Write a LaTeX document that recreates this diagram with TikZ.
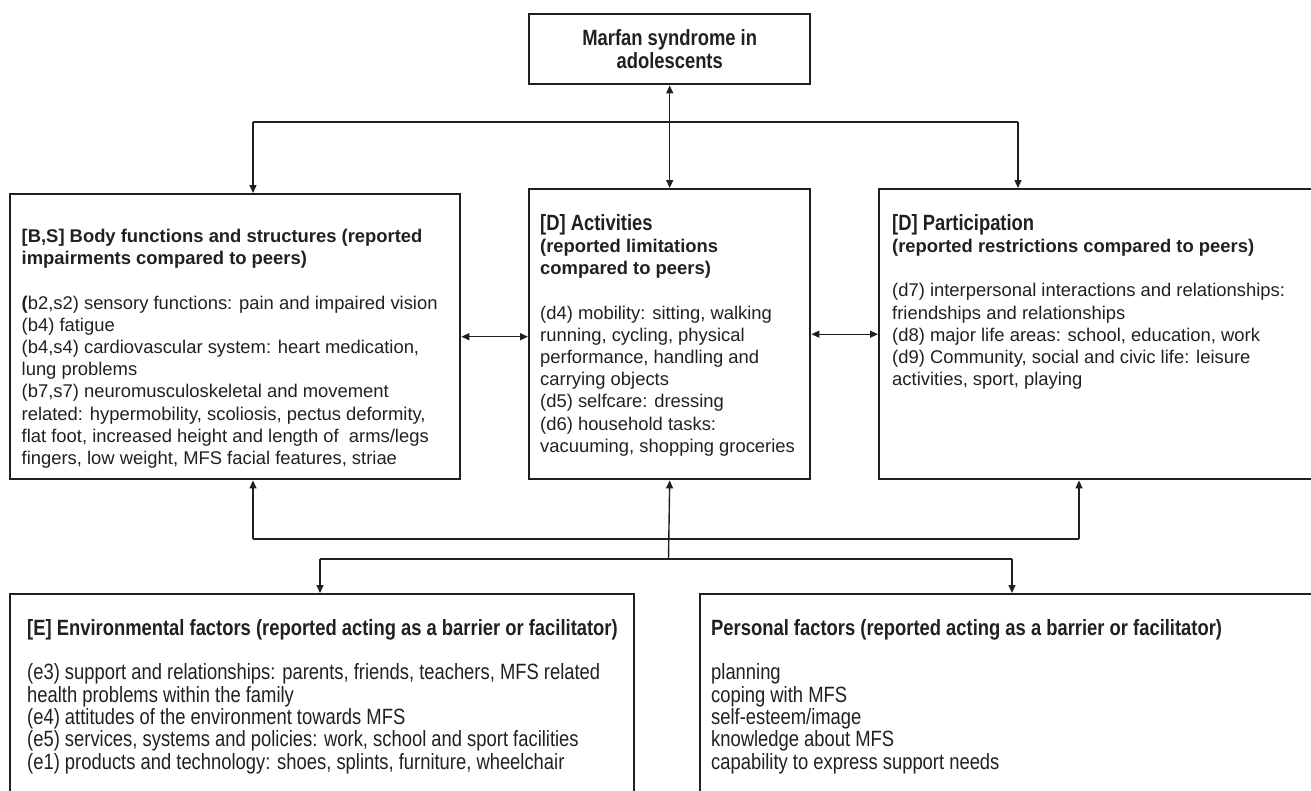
\documentclass[tikz,border=0pt]{standalone}
\usepackage{fontspec}
\setmainfont{Liberation Sans}
\newfontfamily\narrowfont[FakeStretch=0.832]{Liberation Sans}
\usetikzlibrary{arrows.meta}
\newcommand\nar{\narrowfont\fontsize{22.1}{22.3}\selectfont}
\newcommand\reg{\fontsize{18.4}{22.2}\selectfont}
\definecolor{ink}{HTML}{231F20}
\begin{document}
\begin{tikzpicture}[x=1pt,y=-1pt,
  box/.style={draw=ink,line width=2.4pt,inner sep=0pt,anchor=north west},
  txt/.style={anchor=north west,inner sep=0pt,align=left,text=ink},
  conn/.style={draw=ink,line width=1.4pt},
  arr/.style={conn,-{Triangle[length=8pt,width=7pt]}},
  dbl/.style={conn,{Triangle[length=8pt,width=7pt]}-{Triangle[length=8pt,width=7pt]}}]
\useasboundingbox (0,0) rectangle (1311,790);
% boxes
\node[box,minimum width=281pt,minimum height=70pt,align=center,text=ink,font=\nar\bfseries] (top) at (528,13) {Marfan syndrome in\\[0.6pt]adolescents};
\node[box,minimum width=450pt,minimum height=285pt] (left) at (9,193) {};
\node[box,minimum width=281pt,minimum height=290pt] (mid) at (528,188) {};
\node[box,minimum width=442pt,minimum height=290pt] (right) at (878,188) {};
\node[box,minimum width=624pt,minimum height=210pt] (botL) at (9,593) {};
\node[box,minimum width=621pt,minimum height=210pt] (botR) at (699,593) {};
% texts
\node[txt,font=\reg] (leftT) at (21.5,229) {%
\textbf{[B,S] Body functions and structures (reported}\\
\textbf{impairments compared to peers)}\\[22.2pt]
\textbf{(}b2,s2) sensory functions: pain and impaired vision\\
(b4) fatigue\\
(b4,s4) cardiovascular system: heart medication,\\
lung problems\\
(b7,s7) neuromusculoskeletal and movement\\
related: hypermobility, scoliosis, pectus deformity,\\
flat foot, increased height and length of\ \ arms/legs\\
fingers, low weight, MFS facial features, striae};
\node[txt,font=\reg] (midT) at (540,214) {%
{\nar\bfseries [D] Activities}\\
\textbf{(reported limitations}\\
\textbf{compared to peers)}\\[22.2pt]
(d4) mobility: sitting, walking\\
running, cycling, physical\\
performance, handling and\\
carrying objects\\
(d5) selfcare: dressing\\
(d6) household tasks:\\
vacuuming, shopping groceries};
\node[txt,font=\reg] (rightT) at (892,214) {%
{\nar\bfseries [D] Participation}\\
\textbf{(reported restrictions compared to peers)}\\[22.2pt]
(d7) interpersonal interactions and relationships:\\
friendships and relationships\\
(d8) major life areas: school, education, work\\
(d9) Community, social and civic life: leisure\\
activities, sport, playing};
\node[txt,font=\nar] (botLT) at (27,619) {%
\textbf{[E] Environmental factors (reported acting as a barrier or facilitator)}\\[22.3pt]
(e3) support and relationships: parents, friends, teachers, MFS related\\
health problems within the family\\
(e4) attitudes of the environment towards MFS\\
(e5) services, systems and policies: work, school and sport facilities\\
(e1) products and technology: shoes, splints, furniture, wheelchair};
\node[txt,font=\nar] (botRT) at (711,619) {%
\textbf{Personal factors (reported acting as a barrier or facilitator)}\\[22.3pt]
planning\\
coping with MFS\\
self-esteem/image\\
knowledge about MFS\\
capability to express support needs};
% top connectors
\coordinate (tL) at (253,122);
\coordinate (tR) at (1018,122);
\draw[dbl] (top.south) -- (mid.north);
\draw[conn] (tL) -- (tR);
\draw[arr] (tL) -- (tL |- left.north);
\draw[arr] (tR) -- (tR |- right.north);
% side connectors
\draw[dbl] (left.east) -- (left.east -| mid.west);
\draw[dbl] (mid.east) -- (right.west);
% bottom connectors
\coordinate (bL) at (253,539);
\coordinate (bR) at (1079,539);
\coordinate (bM) at (668.5,559);
\coordinate (cL) at (320,559);
\coordinate (cR) at (1012,559);
\draw[conn] (bL) -- (bR);
\draw[arr] (bL) -- (bL |- left.south);
\draw[arr] (bR) -- (bR |- right.south);
\draw[arr] (bM) -- (mid.south);
\draw[conn] (cL) -- (cR);
\draw[arr] (cL) -- (cL |- botL.north);
\draw[arr] (cR) -- (cR |- botR.north);
\end{tikzpicture}
\end{document}
